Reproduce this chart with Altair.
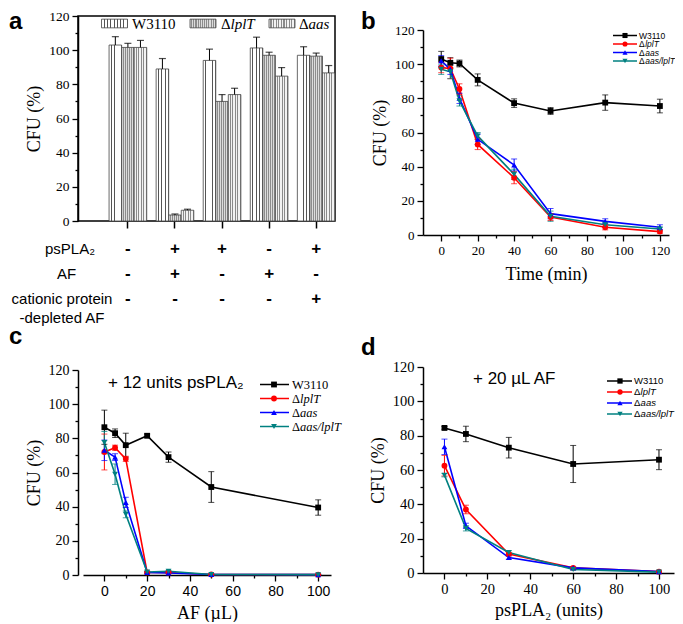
import altair as alt
import pandas as pd

SERIF = "Liberation Serif"
SANS = "Liberation Sans"

# ---------------- data ----------------
SERIES = ["W3110", "ΔlplT", "Δaas", "Δaas/lplT"]
SERIES_ITALIC = ["", "lplT", "aas", "aas/lplT"]
COLORS = ["#000000", "#ff0000", "#0000ff", "#008080"]
SHAPES = ["square", "circle", "triangle-up", "triangle-down"]

# panel a
A_GROUPS = ["1", "2", "3", "4", "5"]
A_SERIES = ["W3110", "ΔlplT", "Δaas"]
A_W3110 = [103.0, 89.0, 94.0, 101.3, 97.0]
A_W3110_ERR = [4.9, 6.1, 6.6, 6.3, 5.0]
A_LPLT = [101.6, 3.5, 70.0, 97.0, 96.5]
A_LPLT_ERR = [2.4, 0.6, 4.0, 1.8, 1.8]
A_AAS = [101.6, 6.3, 74.0, 84.8, 86.7]
A_AAS_ERR = [4.1, 0.6, 3.7, 5.0, 4.3]
A_ROWS = ["psPLA₂", "AF", "cationic protein\n-depleted AF"]
A_PSPLA2 = ["-", "+", "+", "-", "+"]
A_AF = ["-", "+", "-", "+", "-"]
A_DEPLETED = ["-", "-", "-", "-", "+"]

# panel b
B_TIME = [0, 5, 10, 20, 40, 60, 90, 120]
B_W3110 = [103.0, 100.8, 100.4, 90.8, 77.2, 72.6, 77.5, 75.5]
B_W3110_ERR = [4.5, 3.0, 2.0, 3.5, 2.5, 2.0, 4.5, 4.0]
B_LPLT = [98.0, 97.5, 85.5, 53.0, 33.5, 10.5, 4.5, 2.0]
B_LPLT_ERR = [3.0, 6.0, 3.0, 3.0, 3.5, 2.0, 1.5, 1.0]
B_AAS = [102.0, 97.0, 80.0, 56.0, 41.0, 12.5, 8.0, 4.5]
B_AAS_ERR = [3.0, 3.0, 3.0, 3.0, 3.5, 3.0, 1.5, 1.5]
B_AASL = [97.0, 95.5, 78.5, 58.0, 35.5, 11.0, 6.0, 3.5]
B_AASL_ERR = [3.0, 4.0, 3.0, 2.0, 3.0, 3.0, 1.5, 1.0]

# panel c
C_AF = [0, 5, 10, 20, 30, 50, 100]
C_W3110 = [86.5, 83.0, 76.0, 81.5, 69.0, 51.5, 39.5]
C_W3110_ERR = [10.0, 2.5, 7.0, 1.0, 3.0, 9.0, 4.5]
C_LPLT = [72.0, 74.5, 68.0, 1.5, 1.5, 0.3, 0.2]
C_LPLT_ERR = [10.5, 1.5, 1.5, 0.5, 0.5, 0.2, 0.2]
C_AAS = [73.0, 69.0, 42.5, 1.5, 1.2, 0.3, 0.2]
C_AAS_ERR = [6.0, 2.0, 3.0, 0.5, 0.5, 0.2, 0.2]
C_AASL = [77.5, 59.0, 35.5, 1.8, 2.2, 0.3, 0.2]
C_AASL_ERR = [6.5, 6.0, 2.0, 0.5, 0.5, 0.2, 0.2]

# panel d
D_UNITS = [0, 10, 30, 60, 100]
D_W3110 = [84.5, 81.0, 73.0, 63.5, 66.0]
D_W3110_ERR = [0.8, 4.5, 6.0, 10.8, 5.8]
D_LPLT = [62.5, 37.0, 11.0, 3.0, 0.8]
D_LPLT_ERR = [6.0, 2.5, 1.0, 0.5, 0.3]
D_AAS = [73.5, 27.5, 9.0, 3.0, 0.8]
D_AAS_ERR = [4.5, 1.5, 1.0, 0.5, 0.3]
D_AASL = [57.0, 26.0, 12.0, 2.0, 0.5]
D_AASL_ERR = [1.0, 1.5, 1.0, 0.5, 0.3]


# ---------------- helpers ----------------
def stripes(n, bg, fg, frac):
    stops = []
    for i in range(n):
        a = i / n
        b = (i + 1 - frac) / n
        c = (i + 1) / n
        stops += [
            alt.GradientStop(color=bg, offset=a),
            alt.GradientStop(color=bg, offset=b),
            alt.GradientStop(color=fg, offset=b),
            alt.GradientStop(color=fg, offset=c),
        ]
    return alt.LinearGradient(gradient="linear", stops=stops, x1=0, x2=1, y1=0, y2=0)


def qaxis(values, major, font, size, title_pad, label_pad=3):
    return alt.Axis(
        values=values,
        labelExpr=f"datum.value % {major} ? '' : datum.label",
        tickSize={"condition": {"test": f"datum.value % {major} === 0", "value": 6}, "value": 3},
        tickWidth=1.3,
        tickColor="black",
        domainColor="black",
        domainWidth=1.5,
        labelFont=font,
        labelFontSize=size,
        labelColor="black",
        labelPadding=label_pad,
        labelOverlap=False,
        labelFlush=False,
        labelBound=False,
        titleFont=SERIF,
        titleFontSize=18,
        titleFontWeight="normal",
        titleColor="black",
        titlePadding=title_pad,
        grid=False,
    )


def letter_layer(letter, x, y):
    return alt.Chart(pd.DataFrame({"letter": [letter]})).mark_text(
        font=SANS, fontSize=24, fontWeight="bold", align="left", baseline="alphabetic", color="black"
    ).encode(x=alt.value(x), y=alt.value(y), text="letter:N")


# ---------------- panel a ----------------
rows = []
for s, vals, errs in zip(A_SERIES, [A_W3110, A_LPLT, A_AAS], [A_W3110_ERR, A_LPLT_ERR, A_AAS_ERR]):
    for g, v, e in zip(A_GROUPS, vals, errs):
        rows.append({"group": g, "series": s, "value": v, "hi": v + e})
df_a = pd.DataFrame(rows)

xs_a = alt.Scale(domain=A_GROUPS, paddingInner=0.2, paddingOuter=0.33, align=1)
xaxis_a = alt.Axis(labels=False, ticks=True, tickSize=7, tickWidth=1.5, tickColor="black", domain=False, grid=False)
X_a = alt.X("group:N", scale=xs_a, axis=xaxis_a, title=None)
XO_a = alt.XOffset("series:N", scale=alt.Scale(domain=A_SERIES, paddingInner=0, paddingOuter=0))
ys_a = alt.Scale(domain=[0, 120], nice=False)
yaxis_a = qaxis(list(range(0, 121, 10)), 20, SERIF, 13.5, 5)


def Y_a(field):
    return alt.Y(f"{field}:Q", scale=ys_a, axis=yaxis_a, title="CFU (%)")


BAR_FILLS = [stripes(4, "#ffffff", "#555555", 0.3), stripes(6, "#dcdcdc", "#8c8c8c", 0.5), stripes(5, "#f2f2f2", "#8a8a8a", 0.45)]
LEG_FILLS = [stripes(8, "#ffffff", "#555555", 0.3), stripes(12, "#dcdcdc", "#8c8c8c", 0.5), stripes(10, "#f2f2f2", "#8a8a8a", 0.45)]

a_layers = []
for s, f in zip(A_SERIES, BAR_FILLS):
    a_layers.append(
        alt.Chart(df_a[df_a["series"] == s]).mark_bar(fill=f, stroke="#444444", strokeWidth=0.8).encode(
            x=X_a, xOffset=XO_a, y=Y_a("value")
        )
    )
a_layers.append(
    alt.Chart(df_a).mark_rule(color="black", strokeWidth=1).encode(x=X_a, xOffset=XO_a, y=Y_a("value"), y2="hi:Q")
)
a_layers.append(
    alt.Chart(df_a).mark_tick(orient="horizontal", size=7, thickness=1.2, color="black").encode(
        x=X_a, xOffset=XO_a, y=Y_a("hi")
    )
)
ROW_Y = [233, 257.5, 283]
ROW_LABEL_X = [-8, -11.5, -16]
for i, signs in enumerate([A_PSPLA2, A_AF, A_DEPLETED]):
    a_layers.append(
        alt.Chart(pd.DataFrame({"group": A_GROUPS, "sign": signs})).mark_text(
            font=SANS, fontSize=17, fontWeight="bold", color="black", baseline="middle"
        ).encode(x=X_a, y=alt.value(ROW_Y[i]), text="sign:N")
    )
    a_layers.append(
        alt.Chart(pd.DataFrame({"label": [A_ROWS[i]]})).mark_text(
            font=SANS, fontSize=15, lineBreak="\n", lineHeight=19, align="center", baseline="middle", color="black"
        ).encode(x=alt.value(ROW_LABEL_X[i]), y=alt.value(ROW_Y[i]), text="label:N")
    )
RECT = "M-1.5,-0.5H1.5V0.5H-1.5Z"
LEG_A_SYM_X = [36.5, 125, 204]
LEG_A_TXT_X = [54, 143, 221]
for i, s in enumerate(A_SERIES):
    one = pd.DataFrame({"series": [s], "delta": ["Δ"], "name": [SERIES_ITALIC[i]]})
    a_layers.append(
        alt.Chart(one).mark_point(shape=RECT, size=300, filled=True, fill=LEG_FILLS[i], stroke="#444444",
                                  strokeWidth=0.8, opacity=1).encode(x=alt.value(LEG_A_SYM_X[i]), y=alt.value(7.5))
    )
    if i == 0:
        a_layers.append(
            alt.Chart(one).mark_text(font=SERIF, fontSize=15, align="left", baseline="middle", color="black").encode(
                x=alt.value(LEG_A_TXT_X[i]), y=alt.value(7.5), text="series:N")
        )
    else:
        a_layers.append(
            alt.Chart(one).mark_text(font=SERIF, fontSize=15, align="left", baseline="middle", color="black").encode(
                x=alt.value(LEG_A_TXT_X[i]), y=alt.value(7.5), text="delta:N")
        )
        a_layers.append(
            alt.Chart(one).mark_text(font=SERIF, fontSize=15, fontStyle="italic", align="left", baseline="middle",
                                     color="black").encode(
                x=alt.value(LEG_A_TXT_X[i] + 9.5), y=alt.value(7.5), text="name:N")
        )
a_layers.append(letter_layer("a", -69, 13))

panel_a = alt.layer(*a_layers).properties(
    width=257, height=205, view=alt.ViewBackground(stroke="black", strokeWidth=1.5)
)


# ---------------- line panels ----------------
def line_panel(xs, data, xdom, xmax, width, height, xrange, yrange, xtitle, xlab_font, xlab_size, ylab_size,
               xtitle_pad, ytitle_pad, leg, letter, annot=None):
    ox, oy = xrange[0], yrange[1]
    rows = []
    for s, (vals, errs) in zip(SERIES, data):
        for x, v, e in zip(xs, vals, errs):
            rows.append({"x": x, "series": s, "value": v, "lo": v - e, "hi": v + e})
    df = pd.DataFrame(rows)
    X = alt.X("x:Q", scale=alt.Scale(domain=xdom, range=xrange, nice=False, zero=False),
              axis=qaxis(list(range(0, xmax + 1, 10)), 20, xlab_font, xlab_size, xtitle_pad), title=xtitle)
    ys = alt.Scale(domain=[0, 120], range=yrange, nice=False)
    yax = qaxis(list(range(0, 121, 10)), 20, SERIF, ylab_size, ytitle_pad)

    def Y(field):
        return alt.Y(f"{field}:Q", scale=ys, axis=yax, title="CFU (%)")

    color = alt.Color("series:N", scale=alt.Scale(domain=SERIES, range=COLORS), legend=None)
    shape = alt.Shape("series:N", scale=alt.Scale(domain=SERIES, range=SHAPES), legend=None)
    base = alt.Chart(df)
    layers = [
        base.mark_line(strokeWidth=1.6).encode(x=X, y=Y("value"), color=color),
        base.mark_rule(strokeWidth=1).encode(x=X, y=Y("lo"), y2="hi:Q", color=color),
        base.mark_tick(orient="horizontal", size=6, thickness=1).encode(x=X, y=Y("lo"), color=color),
        base.mark_tick(orient="horizontal", size=6, thickness=1).encode(x=X, y=Y("hi"), color=color),
        base.mark_point(filled=True, size=34, opacity=1).encode(x=X, y=Y("value"), color=color, shape=shape),
    ]
    for i, s in enumerate(SERIES):
        one = pd.DataFrame({"series": [s], "delta": ["Δ"], "name": [SERIES_ITALIC[i]]})
        yy = leg["ys"][i] + oy
        layers.append(alt.Chart(one).mark_rule(color=COLORS[i], strokeWidth=1.5).encode(
            x=alt.value(leg["x0"] + ox), x2=alt.value(leg["x1"] + ox), y=alt.value(yy)))
        layers.append(alt.Chart(one).mark_point(shape=SHAPES[i], filled=True, color=COLORS[i], size=leg["msize"],
                                                opacity=1).encode(x=alt.value(leg["xm"] + ox), y=alt.value(yy)))
        if i == 0:
            layers.append(alt.Chart(one).mark_text(font=leg["font"], fontSize=leg["size"], align="left",
                                                   baseline="middle", color="black").encode(
                x=alt.value(leg["xt"] + ox), y=alt.value(yy), text="series:N"))
        else:
            layers.append(alt.Chart(one).mark_text(font=leg["font"], fontSize=leg["size"], align="left",
                                                   baseline="middle", color="black").encode(
                x=alt.value(leg["xt"] + ox), y=alt.value(yy), text="delta:N"))
            layers.append(alt.Chart(one).mark_text(font=leg["font"], fontSize=leg["size"], fontStyle="italic",
                                                   align="left", baseline="middle", color="black").encode(
                x=alt.value(leg["xt"] + leg["dw"] + ox), y=alt.value(yy), text="name:N"))
    if annot is not None:
        layers.append(alt.Chart(pd.DataFrame({"label": [annot[0]]})).mark_text(
            font=SANS, fontSize=17, align="left", baseline="middle", color="black").encode(
            x=alt.value(annot[1] + ox), y=alt.value(annot[2] + oy), text="label:N"))
    layers.append(letter_layer(letter[0], letter[1] + ox, letter[2] + oy))
    return alt.layer(*layers).properties(width=width, height=height)


panel_b = line_panel(
    B_TIME, [(B_W3110, B_W3110_ERR), (B_LPLT, B_LPLT_ERR), (B_AAS, B_AAS_ERR), (B_AASL, B_AASL_ERR)],
    [-10, 125], 120, 246, 219, [0, 246], [219, 14], "Time (min)", SERIF, 13, 13, 8, 5,
    {"x0": 190, "x1": 214, "xm": 202, "xt": 216, "ys": [5.5, 14, 22.5, 31], "font": SANS, "size": 8.5, "dw": 6.2,
     "msize": 26},
    ("b", -62, -1),
)
panel_c = line_panel(
    C_AF, [(C_W3110, C_W3110_ERR), (C_LPLT, C_LPLT_ERR), (C_AAS, C_AAS_ERR), (C_AASL, C_AASL_ERR)],
    [-10, 106], 100, 253, 208, [5, 253], [208, 3], "AF (µL)", SANS, 14, 14, 6, 5,
    {"x0": 177, "x1": 206, "xm": 191, "xt": 209, "ys": [14.5, 28.5, 42.5, 56.5], "font": SERIF, "size": 12.5,
     "dw": 8.0, "msize": 34},
    ("c", -74, -26),
    ("+ 12 units psPLA₂", 25, 13),
)
panel_d = line_panel(
    D_UNITS, [(D_W3110, D_W3110_ERR), (D_LPLT, D_LPLT_ERR), (D_AAS, D_AAS_ERR), (D_AASL, D_AASL_ERR)],
    [-10, 107], 100, 251, 206, [0, 251], [206, 0], "psPLA₂ (units)", SERIF, 14.5, 14.5, 6, 5,
    {"x0": 184, "x1": 209, "xm": 197, "xt": 211, "ys": [14, 25, 36, 47], "font": SANS, "size": 9.5, "dw": 6.6,
     "msize": 28},
    ("d", -62, -12),
    ("+ 20 µL AF", 50, 12),
)

chart = alt.concat(
    panel_a, panel_b, panel_c, panel_d, columns=2, spacing={"row": 132, "column": 88}, bounds="flush"
).properties(padding=0, background="white").configure_view(stroke=None)

chart.save("out.html", embed_options={"renderer": "svg", "actions": False})
